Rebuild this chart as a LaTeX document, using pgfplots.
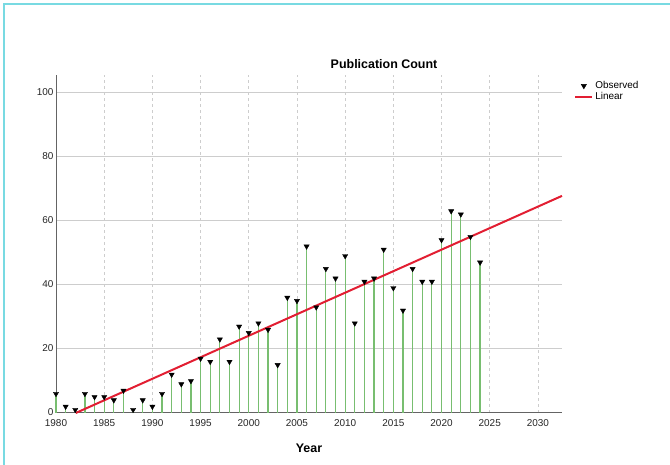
\documentclass[border=0pt]{standalone}
\usepackage{pgfplots}
\pgfplotsset{compat=1.18}
\usepackage{fontspec}
\setmainfont{Liberation Sans}
\definecolor{stem}{RGB}{120,190,112}
\definecolor{fitred}{RGB}{226,30,50}
\definecolor{framec}{RGB}{120,218,226}
\definecolor{gridc}{RGB}{205,205,205}
\definecolor{axc}{RGB}{100,100,100}
\begin{document}
\begin{tikzpicture}[x=1bp,y=1bp]
\useasboundingbox (0,0) rectangle (670,465);
\draw[framec, line width=2bp] (4,-2) -- (4,461) -- (672,461);
\begin{axis}[
  at={(56bp,52bp)}, anchor=south west,
  scale only axis, width=506bp, height=338bp,
  xmin=1980, xmax=2032.5, ymin=0, ymax=105.5,
  axis x line*=bottom, axis y line*=left,
  axis line style={axc, line width=1bp, -},
  xtick={1980,1985,...,2030}, ytick={0,20,...,100},
  major tick length=0pt,
  /pgf/number format/assume math mode=true,
  /pgf/number format/1000 sep={},
  tick label style={font=\fontsize{10}{11}\selectfont, text=black!85},
  xticklabel style={yshift=-3bp},
  yticklabel style={xshift=1bp, yshift=1bp},
  xmajorgrids, ymajorgrids,
  x grid style={gridc, dash pattern=on 3bp off 3bp, line width=0.8bp},
  y grid style={gridc, line width=1bp},
  xlabel={\bfseries Year},
  xlabel style={font=\fontsize{12.5}{14}\selectfont, yshift=-11bp},
  legend style={at={(rel axis cs:1.022,0.99)}, anchor=north west, draw=none, fill=none,
    font=\fontsize{10}{11}\selectfont, row sep=-2bp, inner sep=1bp},
  legend cell align=left,
  clip=false,
]
\addplot[ycomb, stem, line width=1.2bp, forget plot] table {
x y
1980 6
1981 2
1982 1
1983 6
1984 5
1985 5
1986 4
1987 7
1988 1
1989 4
1990 2
1991 6
1992 12
1993 9
1994 10
1995 17
1996 16
1997 23
1998 16
1999 27
2000 25
2001 28
2002 26
2003 15
2004 36
2005 35
2006 52
2007 33
2008 45
2009 42
2010 49
2011 28
2012 41
2013 42
2014 51
2015 39
2016 32
2017 45
2018 41
2019 41
2020 54
2021 63
2022 62
2023 55
2024 47
};
\addplot[fitred, line width=2bp, forget plot] coordinates {(1982.05,0) (2032.5,67.77)};
\addplot[only marks, mark=triangle*, mark size=3bp, mark options={rotate=180, black, fill=black}] table {
x y
1980 6
1981 2
1982 1
1983 6
1984 5
1985 5
1986 4
1987 7
1988 1
1989 4
1990 2
1991 6
1992 12
1993 9
1994 10
1995 17
1996 16
1997 23
1998 16
1999 27
2000 25
2001 28
2002 26
2003 15
2004 36
2005 35
2006 52
2007 33
2008 45
2009 42
2010 49
2011 28
2012 41
2013 42
2014 51
2015 39
2016 32
2017 45
2018 41
2019 41
2020 54
2021 63
2022 62
2023 55
2024 47
};
\addlegendentry{Observed}
\addlegendimage{fitred, line width=2bp}
\addlegendentry{Linear}
\end{axis}
\node[font=\fontsize{12.5}{14}\selectfont\bfseries] at (384,401) {Publication Count};
\end{tikzpicture}
\end{document}
